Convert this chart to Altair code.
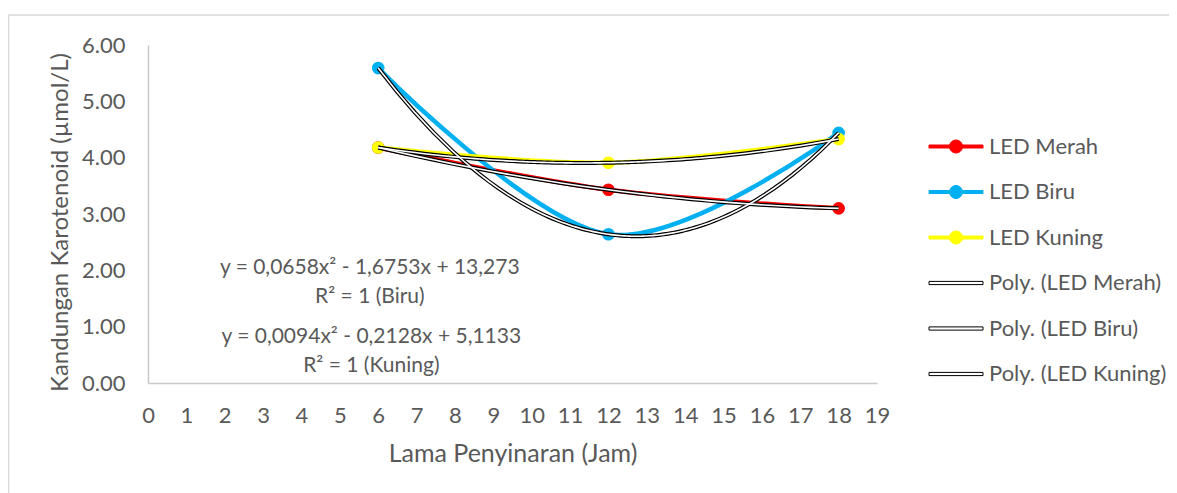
import altair as alt
import pandas as pd

# ---- data ----
hours = [6, 12, 18]
series_names = ["LED Merah", "LED Biru", "LED Kuning"]
led_merah = [4.18, 3.43, 3.10]
led_biru = [5.59, 2.64, 4.44]
led_kuning = [4.18, 3.91, 4.33]
series_colors = ["#FF0000", "#00B0F0", "#FFFF00"]

legend_names = ["LED Merah", "LED Biru", "LED Kuning",
                "Poly. (LED Merah)", "Poly. (LED Biru)", "Poly. (LED Kuning)"]

eq_text = ["y = 0,0658x² - 1,6753x + 13,273", "R² = 1 (Biru)",
           "y = 0,0094x² - 0,2128x + 5,1133", "R² = 1 (Kuning)"]
eq_x = [5.78, 5.78, 5.82, 5.82]
eq_y = [2.05, 1.53, 0.82, 0.31]

x_ticks = list(range(0, 20))
y_ticks = [0, 1, 2, 3, 4, 5, 6]

FONT = "Lato"
TXT = "#595959"

rows = []
for name, vals in zip(series_names, [led_merah, led_biru, led_kuning]):
    for h, v in zip(hours, vals):
        rows.append({"series": name, "jam": h, "nilai": v})
df = pd.DataFrame(rows)
eq_df = pd.DataFrame({"jam": eq_x, "nilai": eq_y, "t": eq_text})
leg_df = pd.DataFrame({"series": legend_names})

xscale = alt.Scale(domain=[0, 19], nice=False, zero=False)
yscale = alt.Scale(domain=[0, 6], nice=False)
cscale = alt.Scale(domain=series_names, range=series_colors)

x_axis = alt.Axis(values=x_ticks, format="d", grid=False, ticks=False,
                  labelOverlap=False, labelFlush=False, tickCount=20,
                  labelFont=FONT, labelFontSize=22, labelColor=TXT,
                  labelBaseline="alphabetic", labelPadding=39,
                  domainColor="#c8c8c8", domainWidth=1.5,
                  title="Lama Penyinaran (Jam)", titleFont=FONT, titleFontSize=25,
                  titleFontWeight="normal", titleColor=TXT,
                  titleBaseline="alphabetic", titleX=364.5, titleY=78)
y_axis = alt.Axis(values=y_ticks, format=".2f", grid=False, ticks=False,
                  labelOverlap=False, labelFlush=False,
                  labelFont=FONT, labelFontSize=22, labelColor=TXT,
                  labelPadding=23, domainColor="#c8c8c8", domainWidth=1.5,
                  title="Kandungan Karotenoid (µmol/L)", titleFont=FONT,
                  titleFontSize=24, titleFontWeight="normal", titleColor=TXT,
                  titleAngle=-90, titleAlign="center", titleBaseline="alphabetic",
                  titleX=-81, titleY=177)

X = alt.X("jam:Q", scale=xscale, axis=x_axis)
Y = alt.Y("nilai:Q", scale=yscale, axis=y_axis)

base = alt.Chart(df)

# outer chart-area border (decoration; right/bottom edges fall outside the page)
frame = alt.Chart(pd.DataFrame({"a": [0]})).mark_rect(
    fill="transparent", stroke="#d9d9d9", strokeWidth=1.5).encode(
    x=alt.value(-139.5), x2=alt.value(1100), y=alt.value(-30), y2=alt.value(600))

line_layers = []
for name in series_names:
    line_layers.append(
        base.transform_filter(alt.datum.series == name).mark_line(
            interpolate="cardinal", strokeWidth=4.5).encode(
            x=X, y=Y, color=alt.Color("series:N", scale=cscale, legend=None))
    )

points = base.mark_circle(size=160, opacity=1).encode(
    x=X, y=Y, color=alt.Color("series:N", scale=cscale, legend=None),
    order=alt.Order("jam:Q"))

trend = base.transform_regression("jam", "nilai", groupby=["series"], method="poly",
                                  order=2, extent=[6, 18])
trend_black = trend.mark_line(color="black", strokeWidth=4).encode(x=X, y=Y, detail="series:N")
trend_white = trend.mark_line(color="white", strokeWidth=1.6).encode(x=X, y=Y, detail="series:N")

eqs = alt.Chart(eq_df).mark_text(font=FONT, fontSize=21, color=TXT, align="center",
                                 baseline="middle").encode(x=X, y=Y, text="t:N")

# legend symbols (unit = sqrt(size)/2 = 10 px)
k = 0.359
circ = ("M0.65,0C0.65,{k} {k},0.65 0,0.65C-{k},0.65 -0.65,{k} -0.65,0"
        "C-0.65,-{k} -{k},-0.65 0,-0.65C{k},-0.65 0.65,-{k} 0.65,0Z").format(k=k)
led_path = "M-2.7,-0.15L2.7,-0.15L2.7,0.15L-2.7,0.15Z" + circ
poly_path = "M-2.7,-0.16L2.7,-0.16L2.7,0.16L-2.7,0.16Z"
leg_fill = series_colors + ["white", "white", "white"]
leg_stroke = series_colors + ["black", "black", "black"]
leg_shape = [led_path] * 3 + [poly_path] * 3

leg = alt.Legend(title=None, orient="none", legendX=797, legendY=90.5, padding=0,
                 labelFont=FONT, labelFontSize=22, labelColor=TXT, labelLimit=0,
                 symbolSize=400, symbolStrokeWidth=1, symbolOpacity=1,
                 labelOffset=22, rowPadding=23.5)
legend_layer = alt.Chart(leg_df).mark_point(opacity=0, filled=True).encode(
    fill=alt.Fill("series:N", scale=alt.Scale(domain=legend_names, range=leg_fill), legend=leg),
    stroke=alt.Stroke("series:N", scale=alt.Scale(domain=legend_names, range=leg_stroke), legend=leg),
    shape=alt.Shape("series:N", scale=alt.Scale(domain=legend_names, range=leg_shape), legend=leg),
    x=alt.value(0), y=alt.value(0))

chart = alt.layer(frame, *line_layers, points, trend_black, trend_white,
                  eqs, legend_layer).properties(
    width=729, height=338, background="white",
    padding={"left": 140, "top": 37, "right": 292, "bottom": 110},
    autosize=alt.AutoSizeParams(type="none"),
).configure_view(strokeWidth=0, stroke="transparent")

chart.save("out.html", embed_options={"renderer": "svg", "actions": False})
